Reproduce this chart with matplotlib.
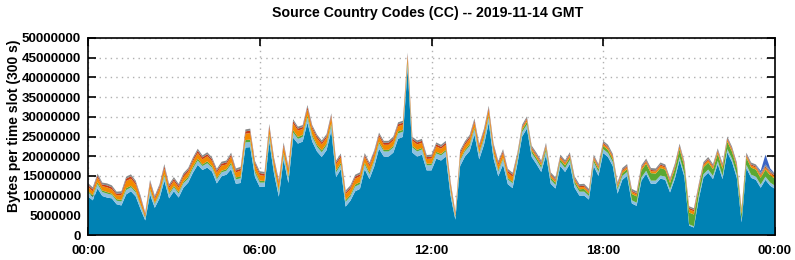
import numpy as np
import matplotlib.pyplot as plt

# bytes per 5-minute slot, every 10 minutes (values in millions)
minutes = np.arange(0, 1441, 10)

blue = [
    9.8, 8.8, 11.8, 9.9, 9.5, 9.3, 7.8, 7.5, 10.3, 11.1, 9.8, 6.6,
    3.7, 10.3, 6.9, 9.3, 13.8, 9.3, 11.1, 9.5, 12.0, 13.3, 15.8, 17.8,
    16.5, 17.1, 16.1, 13.1, 14.9, 15.3, 16.7, 13.0, 13.2, 22.2, 22.3, 14.7,
    12.2, 12.2, 23.7, 15.5, 9.7, 19.2, 13.2, 24.7, 23.2, 23.7, 28.5, 23.7,
    21.2, 19.8, 21.5, 26.5, 14.7, 16.7, 7.2, 8.7, 11.1, 11.7, 16.7, 14.2,
    17.4, 21.9, 19.9, 19.9, 20.9, 24.4, 24.9, 42.3, 20.9, 19.9, 20.4, 16.4,
    16.4, 19.4, 18.9, 19.9, 9.9, 3.9, 17.5, 19.9, 21.3, 25.5, 19.2, 22.9,
    28.5, 19.4, 14.9, 17.9, 12.9, 11.9, 18.0, 25.0, 27.0, 19.8, 18.0, 16.0,
    20.3, 13.0, 11.8, 17.5, 16.0, 18.0, 12.0, 10.0, 10.0, 9.0, 17.5, 15.0,
    20.8, 19.8, 17.5, 10.5, 14.0, 15.0, 8.0, 7.4, 13.8, 15.5, 13.0, 13.0,
    14.3, 14.0, 10.8, 14.2, 19.0, 14.8, 2.4, 1.9, 9.0, 14.6, 15.8, 14.2,
    18.0, 14.2, 21.0, 18.5, 14.5, 3.2, 17.0, 14.5, 14.0, 12.0, 14.0, 12.5,
    11.7,
]
light_blue = [
    1.0, 0.9, 1.1, 1.0, 1.0, 0.9, 0.9, 1.0, 1.1, 1.0, 1.0, 0.9,
    0.6, 1.0, 0.9, 1.0, 1.1, 1.0, 1.0, 1.0, 1.1, 1.0, 1.1, 1.1,
    1.0, 1.1, 1.0, 1.0, 1.0, 1.0, 1.2, 1.1, 1.2, 1.3, 1.3, 1.1,
    1.1, 1.1, 1.3, 1.1, 1.2, 1.2, 1.2, 1.3, 1.2, 1.2, 1.3, 1.2,
    1.2, 1.2, 1.2, 1.3, 1.2, 1.1, 1.2, 1.1, 1.2, 1.2, 1.2, 1.2,
    1.3, 1.3, 1.3, 1.3, 1.3, 1.4, 1.3, 1.2, 1.3, 1.3, 1.3, 1.3,
    1.3, 1.3, 1.3, 1.3, 1.2, 0.6, 1.3, 1.3, 1.3, 1.3, 1.3, 1.3,
    1.4, 1.3, 1.2, 1.3, 1.2, 1.2, 1.0, 1.1, 1.0, 1.0, 1.0, 1.0,
    1.0, 1.0, 0.9, 1.0, 1.0, 1.0, 1.0, 1.0, 1.0, 0.9, 1.0, 1.0,
    1.0, 1.0, 1.0, 1.0, 1.0, 1.0, 0.8, 0.8, 0.8, 0.8, 0.8, 0.8,
    0.8, 0.8, 0.8, 0.8, 0.8, 0.8, 0.3, 0.3, 0.8, 0.8, 0.8, 0.8,
    0.8, 0.8, 0.8, 0.8, 0.8, 0.6, 0.8, 0.8, 0.8, 0.8, 0.8, 0.8,
    0.8,
]
green = [
    0.4, 0.4, 0.5, 0.4, 0.4, 0.3, 0.4, 0.4, 0.5, 0.4, 0.4, 0.3,
    0.2, 0.4, 0.3, 0.4, 0.5, 0.4, 0.4, 0.4, 0.4, 0.5, 0.5, 0.5,
    0.4, 0.5, 0.4, 0.4, 0.4, 0.4, 0.5, 0.5, 0.5, 0.6, 0.6, 0.5,
    0.5, 0.4, 0.6, 0.5, 0.5, 0.5, 0.5, 0.6, 0.5, 0.5, 0.6, 0.5,
    0.5, 0.5, 0.5, 0.6, 0.5, 0.5, 0.5, 0.4, 0.5, 0.5, 0.5, 0.5,
    0.4, 0.5, 0.4, 0.4, 0.4, 0.5, 0.5, 0.6, 0.4, 0.4, 0.4, 0.4,
    0.4, 0.4, 0.4, 0.4, 0.4, 0.2, 0.4, 0.4, 0.5, 0.5, 0.4, 0.5,
    0.5, 0.4, 0.4, 0.4, 0.4, 0.4, 0.6, 0.6, 0.7, 0.6, 0.6, 0.6,
    0.7, 0.6, 0.6, 0.6, 0.7, 0.7, 0.6, 0.6, 0.7, 0.6, 0.6, 0.7,
    0.8, 0.8, 0.7, 0.6, 0.7, 0.7, 1.6, 1.6, 1.8, 1.8, 1.9, 1.8,
    1.9, 1.8, 1.6, 1.8, 2.0, 1.8, 3.0, 3.0, 1.8, 1.8, 1.8, 1.7,
    1.8, 1.8, 1.9, 1.8, 1.8, 1.5, 1.8, 1.8, 1.8, 1.7, 1.8, 1.8,
    1.8,
]
orange = [
    1.0, 1.0, 1.2, 1.1, 1.2, 1.1, 1.0, 1.2, 1.8, 1.8, 1.6, 1.3,
    0.6, 1.3, 1.0, 1.2, 1.5, 1.2, 1.2, 1.1, 1.2, 1.2, 1.3, 1.4,
    1.3, 1.3, 1.2, 1.3, 1.3, 1.2, 1.5, 1.3, 1.4, 1.6, 1.7, 1.5,
    1.4, 1.3, 1.5, 1.5, 1.6, 1.6, 1.6, 1.7, 1.6, 1.5, 1.5, 1.5,
    1.6, 1.5, 1.4, 1.5, 1.5, 1.4, 1.5, 1.4, 1.5, 1.5, 1.4, 1.5,
    1.4, 1.3, 1.3, 1.3, 1.4, 1.3, 1.3, 1.2, 1.3, 1.4, 1.3, 1.2,
    1.3, 1.4, 1.3, 1.3, 1.2, 0.6, 1.3, 1.2, 1.3, 1.3, 1.2, 1.3,
    1.4, 1.2, 1.3, 1.2, 1.3, 1.3, 0.5, 0.5, 0.6, 0.5, 0.5, 0.5,
    0.6, 0.5, 0.5, 0.5, 0.5, 0.5, 0.5, 0.5, 0.5, 0.4, 0.5, 0.5,
    0.5, 0.5, 0.6, 0.5, 0.5, 0.5, 0.5, 0.5, 0.5, 0.5, 0.5, 0.5,
    0.6, 0.5, 0.5, 0.5, 0.6, 0.5, 0.8, 0.8, 0.5, 0.5, 0.6, 0.5,
    0.6, 0.6, 0.5, 0.5, 0.5, 0.8, 0.5, 0.5, 0.5, 0.5, 0.5, 0.5,
    0.5,
]
red = [
    0.5, 0.5, 0.5, 0.4, 0.5, 0.5, 0.4, 0.5, 0.6, 0.6, 0.5, 0.5,
    0.3, 0.5, 0.4, 0.5, 0.6, 0.5, 0.5, 0.5, 0.5, 0.5, 0.5, 0.6,
    0.5, 0.5, 0.5, 0.5, 0.5, 0.5, 0.5, 0.5, 0.5, 0.6, 0.6, 0.5,
    0.5, 0.5, 0.6, 0.5, 0.5, 0.5, 0.5, 0.6, 0.5, 0.5, 0.6, 0.5,
    0.5, 0.5, 0.5, 0.5, 0.5, 0.5, 0.4, 0.5, 0.5, 0.5, 0.5, 0.5,
    0.5, 0.5, 0.5, 0.5, 0.5, 0.5, 0.5, 0.5, 0.5, 0.5, 0.5, 0.5,
    0.5, 0.5, 0.5, 0.5, 0.5, 0.3, 0.5, 0.5, 0.5, 0.5, 0.5, 0.5,
    0.5, 0.5, 0.5, 0.5, 0.5, 0.5, 0.3, 0.3, 0.3, 0.3, 0.3, 0.3,
    0.3, 0.3, 0.3, 0.3, 0.3, 0.3, 0.3, 0.3, 0.3, 0.3, 0.3, 0.3,
    0.3, 0.3, 0.3, 0.3, 0.3, 0.3, 0.3, 0.3, 0.3, 0.3, 0.3, 0.3,
    0.3, 0.3, 0.3, 0.3, 0.3, 0.3, 0.4, 0.4, 0.3, 0.3, 0.3, 0.3,
    0.3, 0.3, 0.3, 0.3, 0.3, 0.3, 0.3, 0.3, 0.3, 0.3, 0.3, 0.3,
    0.3,
]
gray = [
    0.5, 0.5, 0.5, 0.5, 0.5, 0.5, 0.5, 0.5, 0.5, 0.5, 0.5, 0.5,
    0.3, 0.5, 0.5, 0.5, 0.5, 0.5, 0.5, 0.5, 0.5, 0.5, 0.5, 0.5,
    0.5, 0.5, 0.5, 0.5, 0.5, 0.5, 0.5, 0.5, 0.5, 0.5, 0.5, 0.5,
    0.5, 0.5, 0.5, 0.5, 0.5, 0.5, 0.5, 0.5, 0.5, 0.5, 0.5, 0.5,
    0.5, 0.5, 0.5, 0.5, 0.5, 0.5, 0.5, 0.5, 0.5, 0.5, 0.5, 0.5,
    0.5, 0.5, 0.5, 0.5, 0.5, 0.5, 0.5, 0.5, 0.5, 0.5, 0.5, 0.5,
    0.5, 0.5, 0.5, 0.5, 0.5, 0.3, 0.5, 0.5, 0.5, 0.5, 0.5, 0.5,
    0.5, 0.5, 0.5, 0.5, 0.5, 0.5, 0.5, 0.5, 0.5, 0.5, 0.5, 0.5,
    0.5, 0.5, 0.5, 0.5, 0.5, 0.5, 0.5, 0.5, 0.5, 0.5, 0.5, 0.5,
    0.5, 0.5, 0.5, 0.5, 0.5, 0.5, 0.5, 0.5, 0.5, 0.5, 0.5, 0.5,
    0.5, 0.5, 0.5, 0.5, 0.5, 0.5, 0.4, 0.4, 0.5, 0.5, 0.5, 0.5,
    0.5, 0.5, 0.5, 0.5, 0.5, 0.4, 0.5, 0.5, 0.5, 0.5, 0.5, 0.5,
    0.5,
]
dark_blue = [
    0.0, 0.0, 0.0, 0.0, 0.0, 0.0, 0.0, 0.0, 0.0, 0.0, 0.0, 0.0,
    0.0, 0.0, 0.0, 0.0, 0.0, 0.0, 0.0, 0.0, 0.0, 0.0, 0.0, 0.0,
    0.0, 0.0, 0.0, 0.0, 0.0, 0.0, 0.0, 0.0, 0.0, 0.0, 0.0, 0.0,
    0.0, 0.0, 0.0, 0.0, 0.0, 0.0, 0.0, 0.0, 0.0, 0.0, 0.0, 0.0,
    0.0, 0.0, 0.0, 0.0, 0.0, 0.0, 0.0, 0.0, 0.0, 0.0, 0.0, 0.0,
    0.0, 0.0, 0.0, 0.0, 0.0, 0.0, 0.0, 0.0, 0.0, 0.0, 0.0, 0.0,
    0.0, 0.0, 0.0, 0.0, 0.0, 0.0, 0.0, 0.0, 0.0, 0.0, 0.0, 0.0,
    0.0, 0.0, 0.0, 0.0, 0.0, 0.0, 0.0, 0.0, 0.0, 0.0, 0.0, 0.0,
    0.0, 0.0, 0.0, 0.0, 0.0, 0.0, 0.0, 0.0, 0.0, 0.0, 0.0, 0.0,
    0.0, 0.0, 0.0, 0.0, 0.0, 0.0, 0.0, 0.0, 0.0, 0.0, 0.0, 0.0,
    0.0, 0.0, 0.0, 0.0, 0.0, 0.0, 0.0, 0.0, 0.0, 0.0, 0.0, 0.0,
    0.0, 0.0, 0.0, 0.0, 0.0, 0.0, 0.0, 0.0, 0.0, 0.5, 2.5, 0.5,
    0.0,
]

layers = [blue, light_blue, green, orange, red, gray, dark_blue]
colors = ['#0082b4', '#8cc0e0', '#5aa832', '#f28a00', '#c83c14', '#888888', '#3c64c4']

tick_minutes = [0, 360, 720, 1080, 1440]
tick_labels = ['00:00', '06:00', '12:00', '18:00', '00:00']

plt.rcParams['font.family'] = ['Liberation Sans', 'DejaVu Sans']
plt.rcParams['font.weight'] = 'bold'

fig = plt.figure(figsize=(7.95, 2.6), dpi=100)
ax = fig.add_axes([88 / 795, 25 / 260, 687 / 795, 197 / 260])

ax.stackplot(minutes, *[np.array(l) * 1e6 for l in layers], colors=colors,
             linewidth=0, zorder=2)

ax.set_xlim(0, 1440)
ax.set_ylim(0, 50e6)
ax.set_xticks(tick_minutes)
ax.set_xticklabels(tick_labels)
ax.set_yticks(np.arange(0, 50e6 + 1, 5e6))
ax.set_yticklabels([str(int(v)) for v in np.arange(0, 50e6 + 1, 5e6)])
ax.tick_params(direction='in', length=6, width=1.2, labelsize=9.6,
               top=True, right=True)
ax.tick_params(axis='x', pad=7)
ax.tick_params(axis='y', pad=5)
ax.grid(True, color='#b0b0b0', linestyle=(0, (1, 3)), linewidth=1, zorder=0)
ax.set_axisbelow(True)
for s in ax.spines.values():
    s.set_linewidth(1.2)
    s.set_zorder(3)

fig.text(428 / 795, 1 - 13 / 260, 'Source Country Codes (CC) -- 2019-11-14 GMT',
         ha='center', va='center', fontsize=10.2, fontweight='bold')
fig.text(14 / 795, 1 - 126 / 260, 'Bytes per time slot (300 s)', rotation=90,
         ha='center', va='center', fontsize=10, fontweight='bold')

fig.savefig('out.png', dpi=100)
